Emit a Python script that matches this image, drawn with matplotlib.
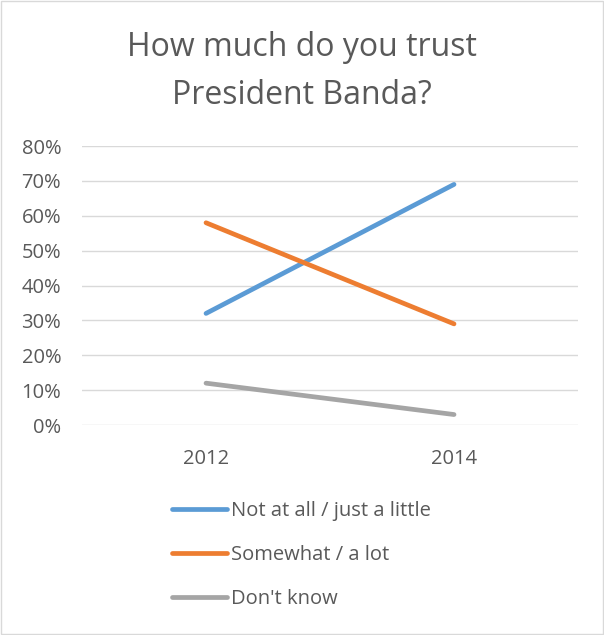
import numpy as np
import matplotlib.pyplot as plt
from matplotlib.lines import Line2D

# data
years = ['2012', '2014']
not_at_all = [32, 69]
somewhat = [58, 29]
dont_know = [12, 3]
labels = ['Not at all / just a little', 'Somewhat / a lot', "Don't know"]
colors = ['#5B9BD5', '#ED7D31', '#A5A5A5']

plt.rcParams['font.family'] = ['Open Sans', 'DejaVu Sans']
txt = '#595959'

fig = plt.figure(figsize=(6.04, 6.35), dpi=100)
ax = fig.add_axes([0.1358, 0.3307, 0.8212, 0.4393])

x = np.arange(len(years))
for vals, c in zip([not_at_all, somewhat, dont_know], colors):
    ax.plot(x, vals, color=c, lw=3.4, solid_capstyle='round')

ax.set_xlim(-0.5, 1.5)
ax.set_ylim(0, 80)
ax.set_yticks(range(0, 81, 10))
ax.set_yticklabels([f'{v}%' for v in range(0, 81, 10)])
ax.set_xticks(x)
ax.set_xticklabels(years)
ax.grid(axis='y', color='#D9D9D9', lw=1)
ax.set_axisbelow(True)
for s in ax.spines.values():
    s.set_visible(False)
ax.tick_params(length=0, labelsize=14.5, colors=txt)
ax.tick_params(axis='y', pad=15)
ax.tick_params(axis='x', pad=17)

fig.text(0.5, 0.888, 'How much do you trust\nPresident Banda?', ha='center', va='center',
         fontsize=23, color=txt, linespacing=1.6)

handles = [Line2D([0], [0], color=c, lw=3.4, solid_capstyle='round') for c in colors]
fig.legend(handles, labels, loc='upper left', bbox_to_anchor=(0.2715, 0.2244),
           frameon=False, fontsize=14.5, labelcolor=txt, handlelength=2.75,
           handletextpad=0.2, labelspacing=1.2, borderaxespad=0)

# light border round the chart area
fig.patches.append(plt.Rectangle((0.002, 0.002), 0.996, 0.996, transform=fig.transFigure,
                                 fill=False, edgecolor='#D9D9D9', lw=1))

fig.savefig('out.png', dpi=100)
